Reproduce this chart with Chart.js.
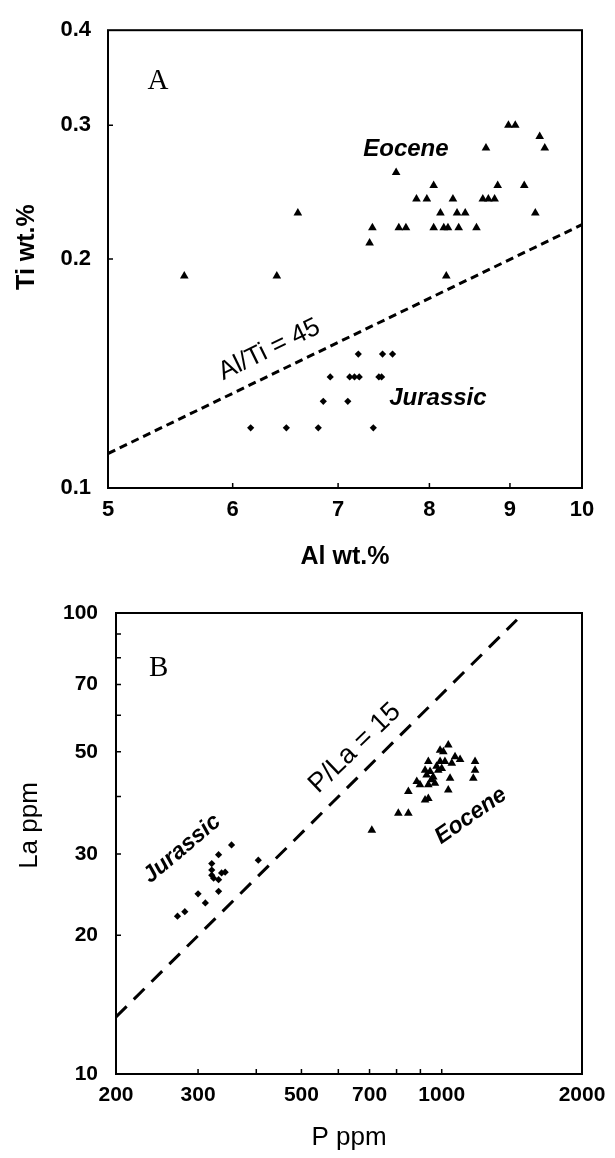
<!DOCTYPE html>
<html>
<head>
<meta charset="utf-8">
<script src="https://cdn.jsdelivr.net/npm/chart.js@4.4.0/dist/chart.umd.min.js"></script>
<style>
  body { margin: 0; background: #fff; }
  canvas { position: absolute; left: 0; }
  #chartA { top: 0; }
  #chartB { top: 580px; }
</style>
</head>
<body>
<canvas id="chartA" width="615" height="580"></canvas>
<canvas id="chartB" width="615" height="578"></canvas>
<script>
// Panel A: Ti vs Al (wt.%)
const eoceneAl = [5.59, 6.40, 8.20, 6.60, 7.33, 7.36, 7.62, 7.65, 7.73, 7.85, 7.97, 8.05, 8.13, 8.05, 8.17, 8.22,
                  8.28, 8.33, 8.43, 8.35, 8.57, 8.65, 8.72, 8.80, 8.69, 8.84, 8.98, 9.07, 9.19, 9.34, 9.40, 9.47];
const eoceneTi = [0.19, 0.19, 0.19, 0.23, 0.21, 0.22, 0.26, 0.22, 0.22, 0.24, 0.24, 0.25, 0.23, 0.22, 0.22, 0.22,
                  0.24, 0.23, 0.23, 0.22, 0.22, 0.24, 0.24, 0.24, 0.28, 0.25, 0.30, 0.30, 0.25, 0.23, 0.29, 0.28];
const jurassicAl = [7.21, 7.47, 7.58, 6.92, 7.12, 7.17, 7.22, 7.43, 7.46, 6.85, 7.10, 6.16, 6.49, 6.80, 7.37];
const jurassicTi = [0.15, 0.15, 0.15, 0.14, 0.14, 0.14, 0.14, 0.14, 0.14, 0.13, 0.13, 0.12, 0.12, 0.12, 0.12];
const ratioLineAl = [5, 10];
const ratioLineTi = [0.111, 0.222];
const alTicks = [5, 6, 7, 8, 9, 10];
const tiTicks = [0.1, 0.2, 0.3, 0.4];

// Panel B: La vs P (ppm)
const eoceneP = [1033, 992, 1008, 1068, 1095, 936, 992, 1016, 1051, 1179, 921, 944, 983, 1179, 928, 959,
                 884, 898, 936, 967, 1042, 1169, 848, 1033, 921, 936, 807, 848, 708, 950, 975, 1000];
const eoceneLa = [51.7, 50.4, 50.0, 48.8, 48.1, 47.6, 47.6, 47.6, 47.2, 47.6, 45.6, 45.3, 45.6, 45.6, 44.5, 44.1,
                  43.1, 42.4, 42.4, 42.7, 43.8, 43.8, 41.0, 41.3, 39.3, 39.6, 36.8, 36.8, 33.8, 43.5, 46.5, 46.0];
const jurassicP = [271, 281, 300, 311, 332, 321, 321, 321, 324, 332, 337, 343, 332, 354, 404];
const jurassicLa = [22.0, 22.5, 24.6, 23.5, 24.9, 28.6, 27.7, 27.0, 26.6, 26.4, 27.3, 27.4, 29.9, 31.4, 29.1];
const ratioLineP = [200, 1450];
const ratioLineLa = [13.3, 96.7];
const pTicks = [200, 300, 400, 500, 600, 700, 800, 900, 1000, 2000];
const pLabels = [200, 300, 500, 700, 1000, 2000];
const laTicks = [10, 20, 30, 40, 50, 60, 70, 80, 90, 100];
const laLabels = [10, 20, 30, 50, 70, 100];

const pts = (xs, ys) => xs.map((x, i) => ({ x: x, y: ys[i] }));

const sans = '"Liberation Sans", Arial, sans-serif';

// box, inward tick marks, annotations and axis titles
const framePlugin = {
  id: 'frame',
  afterDraw(chart, args, opts) {
    const { ctx, chartArea: a, scales } = chart;
    ctx.save();
    ctx.strokeStyle = '#000';
    ctx.lineWidth = 2;
    ctx.strokeRect(a.left, a.top, a.right - a.left, a.bottom - a.top);
    ctx.lineWidth = 1.5;
    ctx.beginPath();
    scales.x.ticks.forEach(t => {
      if (t.value <= scales.x.min || t.value >= scales.x.max) return;
      const px = scales.x.getPixelForValue(t.value);
      ctx.moveTo(px, a.bottom);
      ctx.lineTo(px, a.bottom - 5);
    });
    scales.y.ticks.forEach(t => {
      if (t.value <= scales.y.min || t.value >= scales.y.max) return;
      const py = scales.y.getPixelForValue(t.value);
      ctx.moveTo(a.left, py);
      ctx.lineTo(a.left + 5, py);
    });
    ctx.stroke();

    ctx.fillStyle = '#000';
    ctx.textAlign = 'center';
    ctx.textBaseline = 'middle';
    (opts.notes || []).forEach(n => {
      ctx.save();
      ctx.translate(scales.x.getPixelForValue(n.x), scales.y.getPixelForValue(n.y));
      ctx.rotate((n.angle || 0) * Math.PI / 180);
      ctx.font = n.font;
      ctx.fillText(n.text, 0, 0);
      ctx.restore();
    });

    const xt = opts.xTitle, yt = opts.yTitle;
    ctx.font = xt.font;
    ctx.fillText(xt.text, (a.left + a.right) / 2, a.bottom + xt.dy);
    ctx.save();
    ctx.translate(yt.x, (a.top + a.bottom) / 2 + yt.dy);
    ctx.rotate(-Math.PI / 2);
    ctx.font = yt.font;
    ctx.fillText(yt.text, 0, 0);
    ctx.restore();
    ctx.restore();
  }
};

function logAxis(min, max, tickValues, labelValues, size, fontSize, pad) {
  return {
    type: 'logarithmic',
    min: min,
    max: max,
    afterBuildTicks: s => { s.ticks = tickValues.map(v => ({ value: v })); },
    afterFit: s => { if (s.isHorizontal()) s.height = size; else s.width = size; },
    grid: { display: false, drawTicks: false },
    border: { display: false },
    ticks: {
      autoSkip: false,
      maxRotation: 0,
      padding: pad,
      color: '#000',
      font: { family: sans, size: fontSize, weight: 'bold' },
      callback: v => labelValues.includes(v) ? String(v) : ''
    }
  };
}

function pointSet(data, style, r) {
  return {
    data: data,
    pointStyle: style,
    pointRadius: r,
    pointHoverRadius: r,
    backgroundColor: '#000',
    borderColor: '#000',
    borderWidth: 0
  };
}

function ratioLine(data, dash) {
  return {
    data: data,
    showLine: true,
    borderColor: '#000',
    borderWidth: 3,
    borderDash: dash,
    pointRadius: 0,
    fill: false
  };
}

new Chart(document.getElementById('chartA'), {
  type: 'scatter',
  data: {
    datasets: [
      ratioLine(pts(ratioLineAl, ratioLineTi), [8, 5]),
      pointSet(pts(eoceneAl, eoceneTi), 'triangle', 5),
      pointSet(pts(jurassicAl, jurassicTi), 'rectRot', 3.6)
    ]
  },
  options: {
    responsive: false,
    animation: false,
    devicePixelRatio: 1,
    layout: { padding: { top: 26, right: 33, bottom: 0, left: 0 } },
    plugins: {
      legend: { display: false },
      tooltip: { enabled: false },
      frame: {
        notes: [
          { text: 'A', x: 5.38, y: 0.343, font: '29px "Liberation Serif", serif' },
          { text: 'Eocene', x: 7.73, y: 0.279, font: 'italic bold 24px ' + sans },
          { text: 'Jurassic', x: 8.10, y: 0.131, font: 'italic bold 24px ' + sans },
          { text: 'Al/Ti = 45', x: 6.33, y: 0.152, angle: -26, font: '26px ' + sans }
        ],
        xTitle: { text: 'Al wt.%', font: 'bold 25px ' + sans, dy: 69 },
        yTitle: { text: 'Ti wt.%', font: 'bold 25px ' + sans, x: 27, dy: -12 }
      }
    },
    scales: {
      x: logAxis(5, 10, alTicks, alTicks, 92, 22, 9),
      y: logAxis(0.1, 0.4, tiTicks, tiTicks, 108, 22, 17)
    }
  },
  plugins: [framePlugin]
});

new Chart(document.getElementById('chartB'), {
  type: 'scatter',
  data: {
    datasets: [
      ratioLine(pts(ratioLineP, ratioLineLa), [15, 10]),
      pointSet(pts(eoceneP, eoceneLa), 'triangle', 5),
      pointSet(pts(jurassicP, jurassicLa), 'rectRot', 3.6)
    ]
  },
  options: {
    responsive: false,
    animation: false,
    devicePixelRatio: 1,
    layout: { padding: { top: 33, right: 33, bottom: 0, left: 0 } },
    plugins: {
      legend: { display: false },
      tooltip: { enabled: false },
      frame: {
        notes: [
          { text: 'B', x: 247, y: 76, font: '29px "Liberation Serif", serif' },
          { text: 'P/La = 15', x: 651, y: 50.9, angle: -44, font: '27px ' + sans },
          { text: 'Jurassic', x: 277, y: 30.8, angle: -40, font: 'italic bold 23px ' + sans },
          { text: 'Eocene', x: 1155, y: 36.3, angle: -35, font: 'italic bold 23px ' + sans }
        ],
        xTitle: { text: 'P ppm', font: '26px ' + sans, dy: 64 },
        yTitle: { text: 'La ppm', font: '26px ' + sans, x: 30, dy: -18 }
      }
    },
    scales: {
      x: logAxis(200, 2000, pTicks, pLabels, 84, 21, 9),
      y: logAxis(10, 100, laTicks, laLabels, 116, 21, 18)
    }
  },
  plugins: [framePlugin]
});
</script>
</body>
</html>
